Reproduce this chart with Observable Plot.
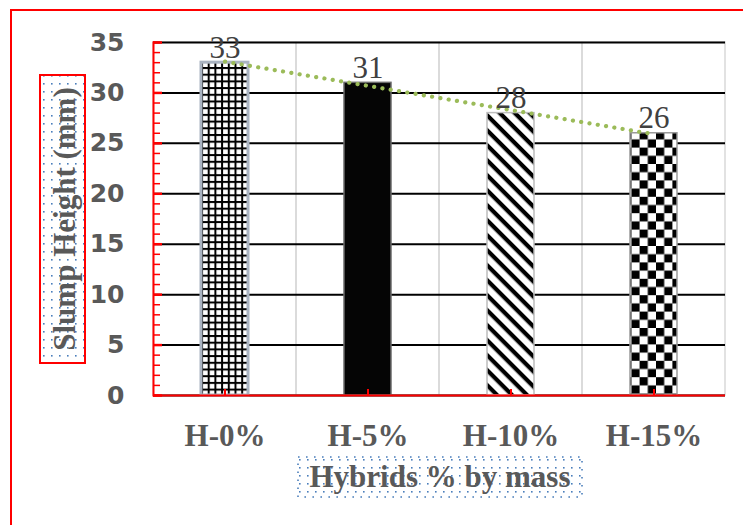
<!DOCTYPE html>
<html><head><meta charset="utf-8">
<script src="https://cdn.jsdelivr.net/npm/d3@7"></script>
<script src="https://cdn.jsdelivr.net/npm/@observablehq/plot@0.6"></script>
<style>body{margin:0;background:#fff;overflow:hidden}</style>
</head><body><div id="chart"></div>
<script>
// ---- data ----
const categories = ["H-0%", "H-5%", "H-10%", "H-15%"];
const slumpValues = [33, 31, 28, 26];
const yTicks = [0, 5, 10, 15, 20, 25, 30, 35];
const yMinorTicks = d3.range(0, 36, 1);
const yTitle = "Slump Height (mm)";
const xTitle = "Hybrids % by mass";
const barFills = ["url(#pGrid)", "#050505", "url(#pStripes)", "url(#pChecker)"];
const barStrokes = ["#a9b3c1", "#6b6b6b", "#bdbdbd", "#9a9a9a"];
const barStrokeWidths = [3, 1.5, 1.5, 1.5];

const yMax = d3.max(yTicks);
const data = categories.map((c, i) => ({
  cat: c, value: slumpValues[i], fill: barFills[i], stroke: barStrokes[i], sw: barStrokeWidths[i]
}));

// linear trend line (least squares over category index)
const n = slumpValues.length;
const mx = d3.mean(d3.range(n)), my = d3.mean(slumpValues);
const slope = d3.sum(slumpValues, (v, i) => (i - mx) * (v - my)) / d3.sum(d3.range(n), i => (i - mx) ** 2);
const trend = categories.map((c, i) => ({cat: c, fit: my + slope * (i - mx)}));

const serif = "'Liberation Serif', 'Times New Roman', serif";
const gray = "#595959";

const svg = Plot.plot({
  width: 743,
  height: 525,
  marginLeft: 153,
  marginRight: 18,
  marginTop: 42,
  marginBottom: 130,
  style: {background: "#fff", fontFamily: serif},
  x: {domain: categories, padding: 0, label: null},
  y: {domain: [0, yMax], label: null},
  marks: [
    Plot.barY(categories, {x: d => d, y1: 0, y2: yMax, fill: "none", stroke: "#d9d9d9", strokeWidth: 1.5}),
    Plot.gridY({ticks: yTicks, stroke: "#000", strokeOpacity: 1, strokeWidth: 2}),
    Plot.barY(data, {x: "cat", y: "value", fill: "fill", stroke: "stroke", strokeWidth: "sw", insetLeft: 48, insetRight: 48}),
    Plot.line(trend, {x: "cat", y: "fit", stroke: "#9bbb59", strokeWidth: 4.2, strokeDasharray: "0.1 8.3", strokeLinecap: "round"}),
    Plot.text(data, {x: "cat", y: "value", text: d => String(d.value), lineAnchor: "bottom", dy: -5, fontFamily: serif, fontSize: 31, fill: "#404040"}),
    Plot.ruleY([0], {stroke: "red", strokeWidth: 2}),
    Plot.frame({anchor: "left", stroke: "red", strokeWidth: 2}),
    Plot.axisY({ticks: yMinorTicks, tickSize: -7, tickFormat: () => "", stroke: "red", strokeWidth: 1.5, label: null}),
    Plot.axisY({ticks: yTicks, tickSize: -9, tickFormat: () => "", stroke: "red", strokeWidth: 2.5, label: null}),
    Plot.axisY({ticks: yTicks, tickSize: 0, tickPadding: 29, fontFamily: "'DejaVu Sans', Verdana, sans-serif", fontSize: 25, fontWeight: "bold", color: gray, label: null}),
    Plot.axisX({tickSize: -6, tickFormat: () => "", stroke: "red", strokeWidth: 2, label: null}),
    Plot.axisX({tickSize: 0, tickPadding: 28, lineAnchor: "top", fontFamily: serif, fontSize: 31, fontWeight: "bold", color: gray, label: null})
  ]
});

const s = d3.select(svg);
const defs = s.insert("defs", ":first-child");
// grid pattern
const pg = defs.append("pattern").attr("id", "pGrid").attr("patternUnits", "userSpaceOnUse").attr("width", 6.7).attr("height", 6.7);
pg.append("rect").attr("width", 6.7).attr("height", 6.7).attr("fill", "#fff");
pg.append("rect").attr("x", 0).attr("y", 0).attr("width", 2).attr("height", 6.7).attr("fill", "#000");
pg.append("rect").attr("x", 0).attr("y", 0).attr("width", 6.7).attr("height", 2).attr("fill", "#000");
// stripes
const ps = defs.append("pattern").attr("id", "pStripes").attr("patternUnits", "userSpaceOnUse").attr("width", 10.6).attr("height", 10.6).attr("patternTransform", "rotate(45)");
ps.append("rect").attr("width", 10.6).attr("height", 10.6).attr("fill", "#fff");
ps.append("rect").attr("width", 10.6).attr("height", 4.2).attr("fill", "#000");
// checker
const pc = defs.append("pattern").attr("id", "pChecker").attr("patternUnits", "userSpaceOnUse").attr("width", 16.4).attr("height", 16.4);
pc.append("rect").attr("width", 16.4).attr("height", 16.4).attr("fill", "#fff");
pc.append("rect").attr("width", 8.2).attr("height", 8.2).attr("fill", "#000");
pc.append("rect").attr("x", 8.2).attr("y", 8.2).attr("width", 8.2).attr("height", 8.2).attr("fill", "#000");
// dotted background
const pd = defs.append("pattern").attr("id", "pDots").attr("patternUnits", "userSpaceOnUse").attr("width", 8).attr("height", 8);
pd.append("rect").attr("width", 8).attr("height", 8).attr("fill", "#fff");
pd.append("rect").attr("x", 3).attr("y", 3).attr("width", 1.6).attr("height", 1.6).attr("fill", "#4a7ebb");

// outer frame (top and left edges visible)
s.append("rect").attr("x", 11).attr("y", 10).attr("width", 760).attr("height", 540)
  .attr("fill", "none").attr("stroke", "red").attr("stroke-width", 2);

// y title box
s.append("rect").attr("x", 40).attr("y", 75).attr("width", 45).attr("height", 288)
  .attr("fill", "url(#pDots)").attr("stroke", "red").attr("stroke-width", 2);
s.append("text").attr("transform", "translate(75,219) rotate(-90)")
  .attr("text-anchor", "middle").attr("font-family", serif).attr("font-weight", "bold")
  .attr("font-size", 31).attr("fill", gray).text(yTitle);

// x title box
s.append("rect").attr("x", 298).attr("y", 457).attr("width", 284).attr("height", 40)
  .attr("fill", "url(#pDots)").attr("stroke", "#4a7ebb").attr("stroke-width", 1.6).attr("stroke-dasharray", "1.6 6.4");
s.append("text").attr("x", 440).attr("y", 487)
  .attr("text-anchor", "middle").attr("font-family", serif).attr("font-weight", "bold")
  .attr("font-size", 31).attr("fill", gray).text(xTitle);

document.getElementById("chart").append(svg);
</script>
</body></html>
